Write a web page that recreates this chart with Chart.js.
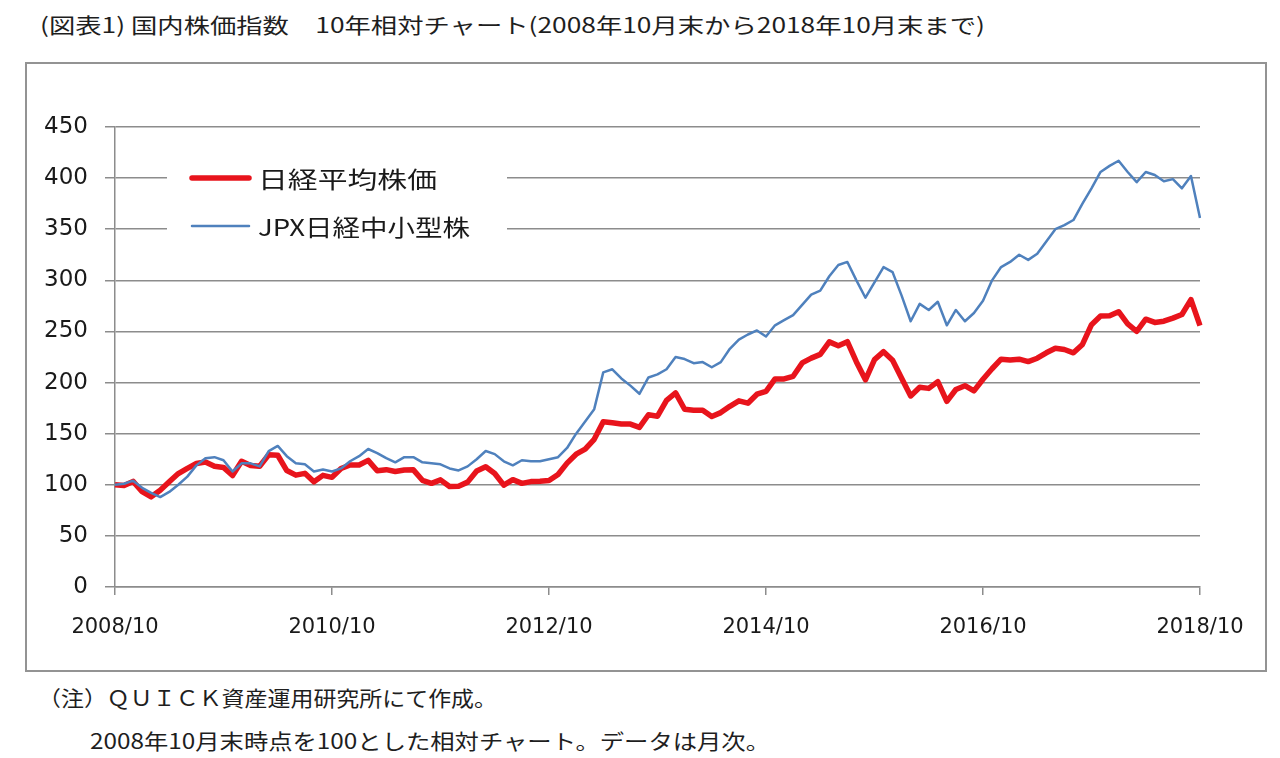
<!DOCTYPE html>
<html lang="ja">
<head>
<meta charset="utf-8">
<script src="https://cdn.jsdelivr.net/npm/chart.js@4.4.0/dist/chart.umd.min.js"></script>
<style>
  body { margin: 0; background: #fff; width: 1280px; height: 758px; position: relative; overflow: hidden;
         font-family: "Noto Sans CJK JP", sans-serif; color: #1e1e1e; }
  .txt { position: absolute; white-space: nowrap; font-size: 21px; line-height: 28px; transform-origin: 0 50%; }
  #title { left: 40px; top: 10px; }
  #note1 { left: 38px; top: 683px; }
  #note2 { left: 90px; top: 726px; }
  #frame { position: absolute; left: 25px; top: 62px; width: 1238px; height: 606px; border: 2px solid #939393; }
</style>
</head>
<body>
<div id="title" class="txt" data-w="945">(図表1) 国内株価指数　10年相対チャート(2008年10月末から2018年10月末まで)</div>
<div id="frame"><canvas id="chart" width="1238" height="606"></canvas></div>
<div id="note1" class="txt" data-w="459">（注）ＱＵＩＣＫ資産運用研究所にて作成。</div>
<div id="note2" class="txt" data-w="680">2008年10月末時点を100とした相対チャート。データは月次。</div>
<script>
// Monthly data, 2008/10 = 100
const startYear = 2008;
const startMonth = 10;
const monthCount = 121;
const tickLabels = ["2008/10", "2010/10", "2012/10", "2014/10", "2016/10", "2018/10"];
const seriesNames = ["日経平均株価", "JPX日経中小型株"];

const nikkei = [
  100, 99.2, 103.3, 93.2, 88.2, 94.6, 102.9, 111.0, 116.1, 120.8, 122.3, 118.1,
  117.0, 109.0, 123.0, 118.9, 118.1, 129.3, 128.9, 113.9, 109.4, 111.2, 102.9, 109.2,
  107.3, 115.9, 119.3, 119.4, 123.9, 113.7, 114.8, 113.0, 114.4, 114.6, 104.4, 101.4,
  104.8, 98.3, 98.6, 102.6, 113.4, 117.6, 111.0, 99.6, 105.0, 101.4, 103.1, 103.4,
  104.1, 110.1, 121.2, 129.9, 134.8, 144.5, 161.6, 160.6, 159.5, 159.4, 156.1, 168.5,
  167.1, 182.6, 189.9, 173.9, 173.0, 172.9, 166.8, 170.6, 176.8, 182.1, 179.8, 188.6,
  191.4, 203.6, 203.5, 206.1, 219.2, 223.9, 227.6, 239.8, 235.9, 240.0, 220.2, 202.7,
  222.5, 230.2, 221.9, 204.2, 186.9, 195.4, 194.3, 200.9, 181.6, 193.2, 196.9, 191.8,
  203.2, 213.5, 222.9, 222.0, 222.9, 220.5, 223.8, 229.1, 233.6, 232.3, 229.1, 237.3,
  256.6, 265.0, 265.4, 269.3, 257.3, 250.1, 262.0, 258.8, 260.0, 263.0, 266.6, 281.2,
  255.6
];

const jpxSmallMid = [
  100, 101, 104, 97, 92, 88, 93, 100, 108, 119, 126, 127,
  124, 113, 121, 121, 118, 133, 138, 128, 121, 120, 113, 115,
  113, 116, 123, 128, 135, 131, 126, 122, 127, 127, 122, 121,
  120, 116, 114, 118, 125, 133, 130, 123, 119, 124, 123, 123,
  125, 127, 136, 150, 162, 174, 210, 213, 204, 197, 189, 205,
  208, 213, 225, 223, 219, 220, 215, 220, 233, 242, 247, 251,
  245, 256, 261, 266, 276, 286, 290, 304, 315, 318, 300, 283,
  298, 313, 308, 285, 260, 277, 271, 279, 256, 271, 260, 268,
  280, 300, 313, 318, 325, 320, 326, 338, 350, 354, 359, 375,
  390, 406, 412, 417, 406, 396, 406, 403, 397, 399, 390, 402,
  361
];

const redColor = "#e8141c";
const blueColor = "#4f81bd";
const gridColor = "#8c8c8c";
const labelColor = "#1a1a1a";

// Month labels yyyy/mm
let months = [];
for (let i = 0; i < monthCount; i++) {
  let m = startMonth - 1 + i;
  months.push((startYear + Math.floor(m / 12)) + "/" + ((m % 12) + 1));
}

// Stretch the page texts to the widths of the original
function fitTexts() {
  document.querySelectorAll(".txt").forEach(function(el) {
    el.style.transform = "none";
    const w = el.getBoundingClientRect().width;
    el.style.transform = "scaleX(" + (parseFloat(el.dataset.w) / w) + ")";
  });
}
fitTexts();
document.fonts.ready.then(fitTexts);

// Legend drawn inside the plot on a white box
const boxLegend = {
  id: "boxLegend",
  beforeDatasetsDraw(chart) {
    const ctx = chart.ctx;
    ctx.save();
    ctx.fillStyle = "#fff";
    ctx.fillRect(140, 86, 340, 96);
    const items = [
      { label: seriesNames[0], color: redColor, width: 5.5, y: 114, w: 179 },
      { label: seriesNames[1], color: blueColor, width: 2.5, y: 162, w: 212 }
    ];
    ctx.font = '23px "Noto Sans CJK JP"';
    ctx.textBaseline = "middle";
    items.forEach(function(it) {
      ctx.strokeStyle = it.color;
      ctx.lineWidth = it.width;
      ctx.lineCap = "round";
      ctx.beginPath();
      ctx.moveTo(165, it.y);
      ctx.lineTo(222, it.y);
      ctx.stroke();
      ctx.fillStyle = labelColor;
      const tw = ctx.measureText(it.label).width;
      ctx.save();
      ctx.translate(231, it.y + 1);
      ctx.scale(it.w / tw, 1);
      ctx.fillText(it.label, 0, 0);
      ctx.restore();
    });
    ctx.restore();
  }
};

const ctx = document.getElementById("chart").getContext("2d");
new Chart(ctx, {
  type: "line",
  data: {
    labels: months,
    datasets: [
      {
        label: seriesNames[1],
        data: jpxSmallMid,
        borderColor: blueColor,
        borderWidth: 2.5,
        pointRadius: 0,
        tension: 0,
        borderJoinStyle: "round",
        order: 0
      },
      {
        label: seriesNames[0],
        data: nikkei,
        borderColor: redColor,
        borderWidth: 5.5,
        pointRadius: 0,
        tension: 0,
        borderJoinStyle: "round",
        order: 1
      }
    ]
  },
  options: {
    responsive: false,
    animation: false,
    layout: { padding: { left: 0, top: 63, right: 65, bottom: 0 } },
    plugins: { legend: { display: false }, tooltip: { enabled: false } },
    scales: {
      x: {
        offset: false,
        afterFit(scale) { scale.height = 83; },
        grid: {
          drawOnChartArea: false,
          drawTicks: true,
          tickLength: 8,
          color: function(c) { return tickLabels.includes(months[c.index]) ? gridColor : "rgba(0,0,0,0)"; },
          lineWidth: 1.5
        },
        border: { color: gridColor, width: 1.5 },
        ticks: {
          autoSkip: false,
          maxRotation: 0,
          padding: 20,
          color: labelColor,
          font: { family: "DejaVu Sans", size: 21 },
          callback: function(v, i) {
            return tickLabels.includes(months[i]) ? months[i] : "";
          }
        }
      },
      y: {
        min: 0,
        max: 450,
        afterFit(scale) { scale.width = 88; },
        grid: { color: gridColor, lineWidth: 1.5, tickLength: 10 },
        border: { color: gridColor, width: 1.5 },
        ticks: {
          stepSize: 50,
          padding: 17,
          color: labelColor,
          font: { family: "DejaVu Sans", size: 23 }
        }
      }
    }
  },
  plugins: [boxLegend]
});
</script>
</body>
</html>
